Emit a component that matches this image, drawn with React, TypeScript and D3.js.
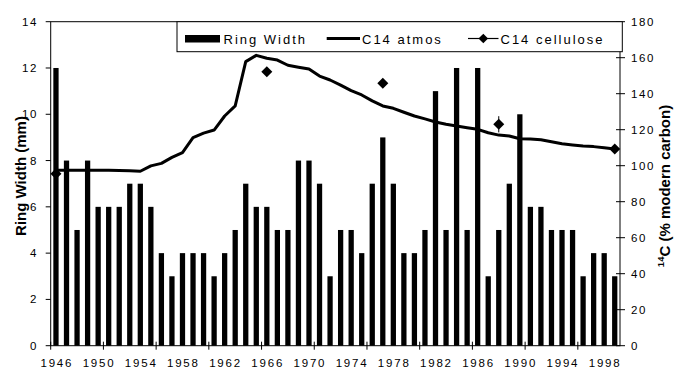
import * as d3 from "d3";

const years = d3.range(1946, 2000);

// ring width in mm, one per year
const ringWidth = [
  12, 8, 5, 8, 6, 6, 6, 7, 7, 6,
  4, 3, 4, 4, 4, 3, 4, 5, 7, 6,
  6, 5, 5, 8, 8, 7, 3, 5, 5, 4,
  7, 9, 7, 4, 4, 5, 11, 5, 12, 5,
  12, 3, 5, 7, 10, 6, 6, 5, 5, 5,
  3, 4, 4, 3,
];

// atmospheric 14C, % modern carbon
const c14Atmos = [
  97.5, 97.5, 97.5, 97.5, 97.5, 97.5, 97.4, 97.2, 96.9, 99.9,
  101.3, 104.6, 107.3, 115.6, 118.1, 119.8, 127.6, 133.2, 157.8, 161.3,
  159.7, 158.7, 155.8, 154.7, 153.7, 149.8, 147.6, 144.8, 141.7, 139.3,
  136.0, 133.2, 131.9, 129.7, 127.6, 126.0, 124.3, 123.0, 122.0, 121.1,
  120.2, 118.3, 117.0, 116.5, 115.0, 114.8, 114.4, 113.3, 112.2, 111.5,
  110.9, 110.6, 110.0, 109.3,
];

const celluloseYears = [1946, 1966, 1977, 1988, 1999];
const celluloseValues = [95.5, 152.2, 145.8, 123.0, 109.3];
const celluloseErr = [0, 0, 0, 4.5, 0];

const leftTicks = [0, 2, 4, 6, 8, 10, 12, 14];
const rightTicks = [0, 20, 40, 60, 80, 100, 120, 140, 160, 180];
const labelYears = d3.range(1946, 2000, 4);

const W = 675;
const H = 370;
const mLeft = 50.7;
const mRight = 620;
const mTop = 21.7;
const mBottom = 345.7;
const font = "Arial, 'Liberation Sans', sans-serif";

export default function App() {
  const x = d3.scaleBand<number>().domain(years).range([mLeft, mRight]).paddingInner(0.5).paddingOuter(0.25);
  const step = x.step();
  const yL = d3.scaleLinear().domain([0, 14]).range([mBottom, mTop]);
  const yR = d3.scaleLinear().domain([0, 180]).range([mBottom, mTop]);
  const cx = (yr: number) => (x(yr) ?? 0) + x.bandwidth() / 2;

  const line = d3
    .line<number>()
    .x((_, i) => cx(years[i]))
    .y((d) => yR(d));

  const diamond = (px: number, py: number, r: number) =>
    `M${px},${py - r}L${px + r},${py}L${px},${py + r}L${px - r},${py}Z`;

  const boundaryTicks = d3.range(0, years.length + 1, 5).map((i) => mLeft + i * step);

  const legX = 177;
  const legY = mTop;

  return (
    <svg
      width={W}
      height={H}
      viewBox={`0 0 ${W} ${H}`}
      style={{ position: "absolute", left: 0, top: 0, background: "#fff" }}
      fontFamily={font}
    >
      <rect x={0} y={0} width={W} height={H} fill="#fff" />

      {/* bars */}
      <g fill="#000">
        {ringWidth.map((d, i) => (
          <rect
            key={i}
            x={x(years[i])}
            width={x.bandwidth()}
            y={yL(d)}
            height={yL(0) - yL(d)}
          />
        ))}
      </g>

      {/* plot frame */}
      <rect
        x={mLeft}
        y={mTop}
        width={mRight - mLeft}
        height={mBottom - mTop}
        fill="none"
        stroke="#000"
        strokeWidth={1}
      />

      {/* atmos line */}
      <path d={line(c14Atmos) ?? ""} fill="none" stroke="#000" strokeWidth={3} strokeLinejoin="round" />

      {/* cellulose */}
      {celluloseYears.map((yr, i) => (
        <g key={yr}>
          {celluloseErr[i] > 0 && (
            <line
              x1={cx(yr)}
              x2={cx(yr)}
              y1={yR(celluloseValues[i] + celluloseErr[i])}
              y2={yR(celluloseValues[i] - celluloseErr[i])}
              stroke="#000"
              strokeWidth={1}
            />
          )}
          <path d={diamond(cx(yr), yR(celluloseValues[i]), 5.5)} fill="#000" />
        </g>
      ))}

      {/* left axis */}
      <g fontSize={11.5} letterSpacing={1.6} fill="#000">
        {leftTicks.map((t) => (
          <g key={t}>
            <line x1={mLeft - 5} x2={mLeft} y1={yL(t)} y2={yL(t)} stroke="#000" />
            <text x={38} y={yL(t)} dy="0.35em" textAnchor="end">
              {t}
            </text>
          </g>
        ))}
      </g>

      {/* right axis */}
      <g fontSize={11.5} letterSpacing={1.6} fill="#000">
        {rightTicks.map((t) => (
          <g key={t}>
            <line x1={mRight - 4} x2={mRight + 5} y1={yR(t)} y2={yR(t)} stroke="#000" />
            <text x={mRight + 11} y={yR(t)} dy="0.35em" textAnchor="start">
              {t}
            </text>
          </g>
        ))}
      </g>

      {/* bottom axis */}
      <g fontSize={11.5} letterSpacing={1.8} fill="#000">
        {boundaryTicks.map((bx, i) => (
          <line key={i} x1={bx} x2={bx} y1={mBottom - 4} y2={mBottom + 4} stroke="#000" />
        ))}
        {labelYears.map((yr) => (
          <text key={yr} x={cx(yr) + 0.9} y={367} textAnchor="middle">
            {yr}
          </text>
        ))}
      </g>

      {/* axis titles */}
      <text
        transform={`translate(26,176) rotate(-90)`}
        textAnchor="middle"
        fontSize={15}
        fontWeight="bold"
      >
        Ring Width (mm)
      </text>
      <text
        transform={`translate(670,186) rotate(-90)`}
        textAnchor="middle"
        fontSize={15}
        fontWeight="bold"
      >
        <tspan fontSize={9.5} dy={-6}>14</tspan>
        <tspan dy={6}>C (% modern carbon)</tspan>
      </text>

      {/* legend */}
      <g>
        <rect x={legX} y={legY} width={622.3 - legX} height={30} fill="#fff" stroke="#000" strokeWidth={1} />
        <rect x={185} y={35} width={35} height={7.5} fill="#000" />
        <line x1={326.7} x2={360} y1={38.5} y2={38.5} stroke="#000" strokeWidth={3} />
        <line x1={468} x2={498.5} y1={38.5} y2={38.5} stroke="#000" strokeWidth={1.2} />
        <path d={diamond(483.3, 38.5, 4.8)} fill="#000" />
        <g fontSize={13} letterSpacing={2} fill="#000">
          <text x={223.5} y={43.5}>Ring Width</text>
          <text x={362} y={43.5}>C14 atmos</text>
          <text x={500.5} y={43.5}>C14 cellulose</text>
        </g>
      </g>
    </svg>
  );
}
